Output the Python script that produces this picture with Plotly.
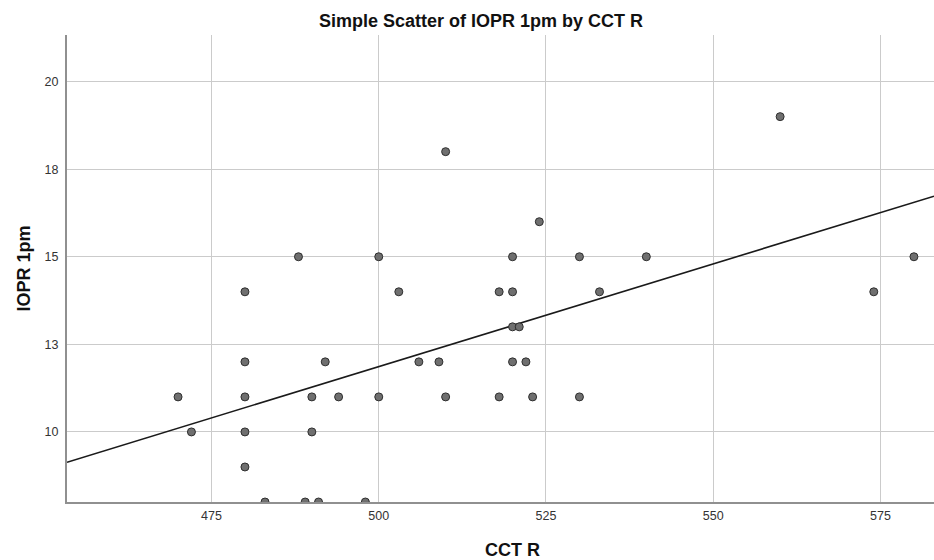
import numpy as np
import plotly.graph_objects as go

# CCT R (x) and IOPR 1pm (y)
cct_r = [470, 472, 480, 480, 480, 480, 480, 483, 488, 489,
         490, 490, 491, 492, 494, 498, 500, 500, 503, 506,
         509, 510, 510, 518, 518, 520, 520, 520, 520, 521,
         522, 523, 524, 530, 530, 533, 540, 560, 574, 580]
iopr_1pm = [11, 10, 14, 12, 11, 10, 9, 8, 15, 8,
            11, 10, 8, 12, 11, 8, 15, 11, 14, 12,
            12, 18, 11, 14, 11, 15, 14, 13, 12, 13,
            12, 11, 16, 15, 11, 14, 15, 19, 14, 15]

x_ticks = [475, 500, 525, 550, 575]
y_ticks = [10, 12.5, 15, 17.5, 20]
y_tick_labels = ["10", "13", "15", "18", "20"]

x_range = [453.4, 583.0]
y_range = [8.0, 21.33]

# linear fit line across the whole x range
slope, intercept = np.polyfit(cct_r, iopr_1pm, 1)
fit_x = np.array(x_range)
fit_y = intercept + slope * fit_x

fig = go.Figure()
fig.add_trace(
    go.Scatter(
        x=fit_x,
        y=fit_y,
        mode='lines',
        line=dict(color='#1a1a1a', width=1.6),
        hoverinfo='skip',
        showlegend=False
    )
)
fig.add_trace(
    go.Scatter(
        x=cct_r,
        y=iopr_1pm,
        mode='markers',
        marker=dict(size=8, color='#6f6f6f',
                    line=dict(color='#2e2e2e', width=1)),
        showlegend=False
    )
)

fig.update_layout(
    width=934,
    height=560,
    margin=dict(l=67, r=0, t=35, b=58, autoexpand=False),
    paper_bgcolor='white',
    plot_bgcolor='white',
    font=dict(family='Liberation Sans, Arial, sans-serif', color='#222222'),
    title=dict(
        text='<b>Simple Scatter of IOPR 1pm by CCT R</b>',
        x=0.515, xanchor='center', y=0.9625, yanchor='middle',
        font=dict(size=18, color='#111111')
    ),
    xaxis=dict(
        range=x_range,
        tickvals=x_ticks,
        automargin=False,
        showgrid=True, gridcolor='#cbcbcb', gridwidth=1,
        zeroline=False,
        showline=True, linecolor='#909090', linewidth=2,
        ticks='', ticklabelstandoff=1,
        tickfont=dict(size=12.5, color='#333333')
    ),
    yaxis=dict(
        range=y_range,
        tickvals=y_ticks,
        ticktext=y_tick_labels,
        automargin=False,
        showgrid=True, gridcolor='#cbcbcb', gridwidth=1,
        zeroline=False,
        showline=True, linecolor='#909090', linewidth=2,
        ticks='', ticklabelstandoff=4,
        tickfont=dict(size=12.5, color='#333333')
    ),
    annotations=[
        dict(text='<b>CCT R</b>', xref='paper', yref='paper',
             x=0.514, y=-0.103, xanchor='center', yanchor='middle',
             showarrow=False, font=dict(size=18, color='#111111')),
        dict(text='<b>IOPR 1pm</b>', xref='paper', yref='paper',
             x=-0.0496, y=0.5, xanchor='center', yanchor='middle',
             textangle=-90,
             showarrow=False, font=dict(size=18, color='#111111'))
    ]
)

# drop the default body margin so the 934x560 figure fills the window exactly
fig.write_html(
    "out.html",
    config={'displayModeBar': False},
    post_script="document.body.style.margin = '0';"
)
